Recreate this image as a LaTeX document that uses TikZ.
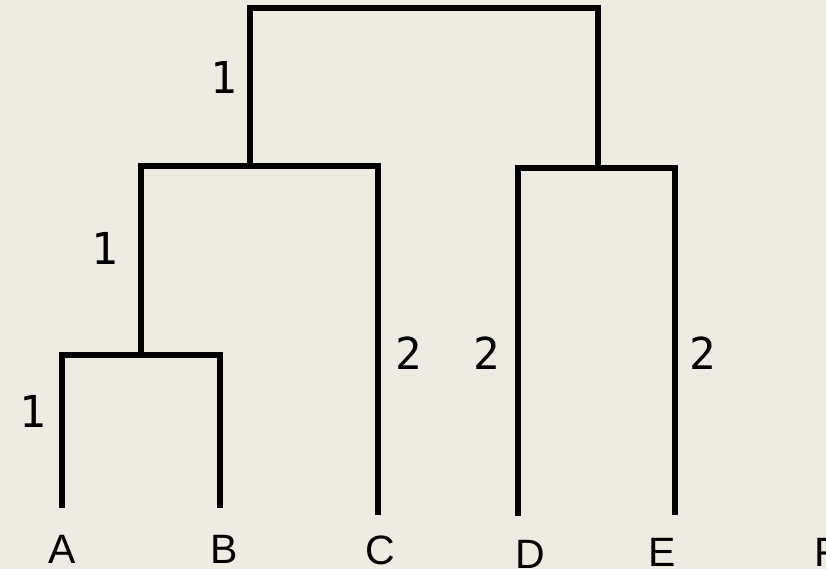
\documentclass[tikz,border=0pt]{standalone}
\usepackage{fontspec}
\setmainfont{Liberation Sans}
\newfontfamily\numfont{DejaVu Sans Mono}
\definecolor{bgc}{RGB}{238,235,227}
\begin{document}
\begin{tikzpicture}[x=1pt,y=-1pt,
  branch/.style={line width=5.5pt, line join=miter, line cap=butt, black},
  leaf/.style={font=\fontsize{41}{41}\selectfont, inner sep=0pt, anchor=base},
  wt/.style={font=\numfont\fontsize{44}{44}\selectfont, inner sep=0pt}]
\fill[bgc] (0,0) rectangle (826,569);
\useasboundingbox (0,0) rectangle (826,569);
% leaves
\node[leaf] (A) at (62,563) {A};
\node[leaf] (B) at (224,563) {B};
\node[leaf] (C) at (380,564) {C};
\node[leaf] (D) at (530,568) {D};
\node[leaf] (E) at (662,566) {E};
\node[leaf, anchor=base west] (F) at (814,566) {F};
% tips and junctions
\coordinate (tA) at (62,508);
\coordinate (tB) at (220,508);
\coordinate (tC) at (378,515);
\coordinate (tD) at (518,516);
\coordinate (tE) at (675,515);
\coordinate (ab) at (141,355);
\coordinate (abc) at (250,166);
\coordinate (de) at (598,168);
\coordinate (root) at (424,8);
% branches
\draw[branch] (tA) |- (ab) -| (tB);
\draw[branch] (ab) |- (abc) -| (tC);
\draw[branch] (tD) |- (de) -| (tE);
\draw[branch] (abc) |- (root) -| (de);
% weights
\node[wt] (w1) at (224,77) {1};
\node[wt] (w2) at (105,248) {1};
\node[wt] (w3) at (33,411) {1};
\node[wt] (w4) at (409,353) {2};
\node[wt] (w5) at (487,353) {2};
\node[wt] (w6) at (703,353) {2};
\end{tikzpicture}
\end{document}
